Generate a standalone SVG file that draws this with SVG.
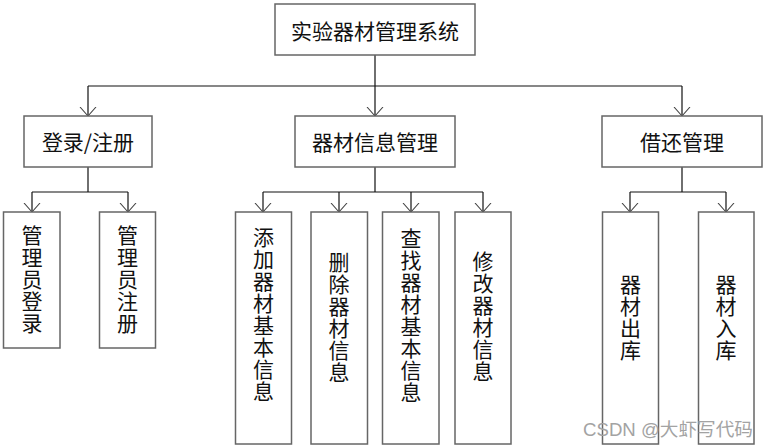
<svg xmlns="http://www.w3.org/2000/svg" width="768" height="448" viewBox="0 0 768 448">
<style>
.box{fill:#fff;stroke:#666;stroke-width:1.5}
.t{font-family:"Noto Sans CJK SC","Liberation Sans",sans-serif;font-size:21px;fill:#111;text-anchor:middle;dominant-baseline:central}
.ln{fill:none;stroke:#111;stroke-width:1.2}
.wm{font-family:"Liberation Sans","Noto Sans CJK SC",sans-serif;font-size:18px;fill:#a3a3a3}
</style>
<defs>
<marker id="arr" markerWidth="20" markerHeight="20" refX="9" refY="9" orient="auto" markerUnits="userSpaceOnUse">
<path d="M0,1 L9,9 L0,17" fill="none" stroke="#444" stroke-width="1.1"/>
</marker>
</defs>
<rect width="768" height="448" fill="#fff"/>
<g id="connectors">
<path class="ln" d="M375,55 V86 M88,86 H682"/>
<path class="ln" d="M88,86 V116" marker-end="url(#arr)"/>
<path class="ln" d="M375,86 V116" marker-end="url(#arr)"/>
<path class="ln" d="M682,86 V116" marker-end="url(#arr)"/>
<path class="ln" d="M88,167 V192 M32,192 H128"/>
<path class="ln" d="M32,192 V212" marker-end="url(#arr)"/>
<path class="ln" d="M128,192 V212" marker-end="url(#arr)"/>
<path class="ln" d="M375,167 V192 M263,192 H483"/>
<path class="ln" d="M263,192 V212" marker-end="url(#arr)"/>
<path class="ln" d="M339,192 V212" marker-end="url(#arr)"/>
<path class="ln" d="M411,192 V212" marker-end="url(#arr)"/>
<path class="ln" d="M483,192 V212" marker-end="url(#arr)"/>
<path class="ln" d="M682,167 V192 M630,192 H726"/>
<path class="ln" d="M630,192 V212" marker-end="url(#arr)"/>
<path class="ln" d="M726,192 V212" marker-end="url(#arr)"/>
</g>
<g id="root"><rect class="box" x="275" y="4" width="200" height="51"/><text class="t" x="375" y="30">实验器材管理系统</text></g>
<g id="login"><rect class="box" x="24" y="116" width="128" height="51"/><text class="t" x="88" y="141">登录/注册</text></g>
<g id="equip"><rect class="box" x="295" y="116" width="160" height="51"/><text class="t" x="375" y="141">器材信息管理</text></g>
<g id="borrow"><rect class="box" x="602" y="116" width="160" height="51"/><text class="t" x="682" y="141">借还管理</text></g>
<g id="n1"><rect class="box" x="3.5" y="212" width="56.5" height="136"/><text class="t" x="32"><tspan x="32" y="234">管</tspan><tspan x="32" y="256">理</tspan><tspan x="32" y="278">员</tspan><tspan x="32" y="300">登</tspan><tspan x="32" y="322">录</tspan></text></g>
<g id="n2"><rect class="box" x="99.5" y="212" width="56" height="136"/><text class="t"><tspan x="127.5" y="234">管</tspan><tspan x="127.5" y="256">理</tspan><tspan x="127.5" y="278">员</tspan><tspan x="127.5" y="300">注</tspan><tspan x="127.5" y="322">册</tspan></text></g>
<g id="n3"><rect class="box" x="235.5" y="212" width="56" height="232"/><text class="t"><tspan x="263.5" y="236">添</tspan><tspan x="263.5" y="258">加</tspan><tspan x="263.5" y="280">器</tspan><tspan x="263.5" y="302">材</tspan><tspan x="263.5" y="324">基</tspan><tspan x="263.5" y="346">本</tspan><tspan x="263.5" y="368">信</tspan><tspan x="263.5" y="390">息</tspan></text></g>
<g id="n4"><rect class="box" x="311" y="212" width="56.5" height="232"/><text class="t"><tspan x="339" y="261">删</tspan><tspan x="339" y="283">除</tspan><tspan x="339" y="305">器</tspan><tspan x="339" y="327">材</tspan><tspan x="339" y="349">信</tspan><tspan x="339" y="371">息</tspan></text></g>
<g id="n5"><rect class="box" x="382.5" y="212" width="56.5" height="232"/><text class="t"><tspan x="411" y="237">查</tspan><tspan x="411" y="259">找</tspan><tspan x="411" y="281">器</tspan><tspan x="411" y="303">材</tspan><tspan x="411" y="325">基</tspan><tspan x="411" y="347">本</tspan><tspan x="411" y="369">信</tspan><tspan x="411" y="391">息</tspan></text></g>
<g id="n6"><rect class="box" x="455" y="212" width="56" height="232"/><text class="t"><tspan x="483" y="260">修</tspan><tspan x="483" y="282">改</tspan><tspan x="483" y="304">器</tspan><tspan x="483" y="326">材</tspan><tspan x="483" y="348">信</tspan><tspan x="483" y="370">息</tspan></text></g>
<g id="n7"><rect class="box" x="602.5" y="212" width="56" height="232"/><text class="t"><tspan x="630.5" y="283">器</tspan><tspan x="630.5" y="305">材</tspan><tspan x="630.5" y="327">出</tspan><tspan x="630.5" y="349">库</tspan></text></g>
<g id="n8"><rect class="box" x="698.5" y="212" width="55.5" height="232"/><text class="t"><tspan x="726" y="283">器</tspan><tspan x="726" y="305">材</tspan><tspan x="726" y="327">入</tspan><tspan x="726" y="349">库</tspan></text></g>
<text class="wm" x="583" y="436" textLength="170" lengthAdjust="spacingAndGlyphs">CSDN @大虾写代码</text>
</svg>
